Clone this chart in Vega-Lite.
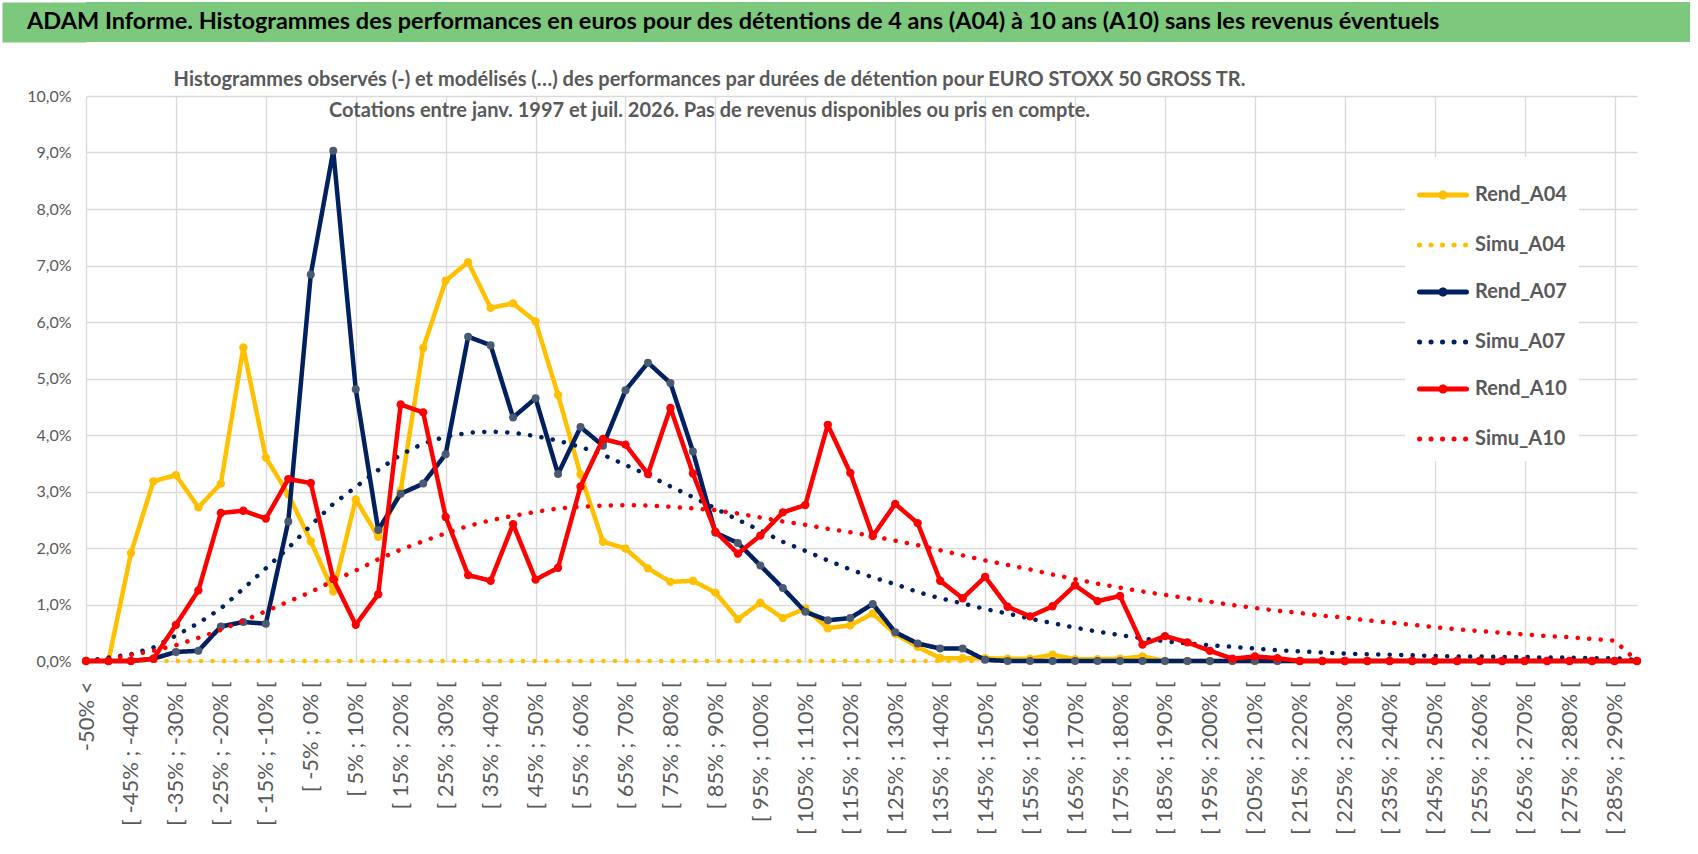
{
  "$schema": "https://vega.github.io/schema/vega-lite/v6.json",
  "background": "white",
  "padding": {"left": 2, "top": 2, "right": 6, "bottom": 4},
  "spacing": 28,
  "config": {
    "view": {"stroke": null},
    "font": "Lato",
    "line": {"strokeCap": "round"}
  },
  "datasets": {
    "h": [
      {"s":"Rend_A04","c":"-50% <","v":0},
      {"s":"Rend_A04","c":"[ -50% ; -45% [","v":0},
      {"s":"Rend_A04","c":"[ -45% ; -40% [","v":1.91},
      {"s":"Rend_A04","c":"[ -40% ; -35% [","v":3.18},
      {"s":"Rend_A04","c":"[ -35% ; -30% [","v":3.29},
      {"s":"Rend_A04","c":"[ -30% ; -25% [","v":2.72},
      {"s":"Rend_A04","c":"[ -25% ; -20% [","v":3.14},
      {"s":"Rend_A04","c":"[ -20% ; -15% [","v":5.55},
      {"s":"Rend_A04","c":"[ -15% ; -10% [","v":3.6},
      {"s":"Rend_A04","c":"[ -10% ; -5% [","v":2.95},
      {"s":"Rend_A04","c":"[ -5% ; 0% [","v":2.12},
      {"s":"Rend_A04","c":"[ 0% ; 5% [","v":1.23},
      {"s":"Rend_A04","c":"[ 5% ; 10% [","v":2.86},
      {"s":"Rend_A04","c":"[ 10% ; 15% [","v":2.2},
      {"s":"Rend_A04","c":"[ 15% ; 20% [","v":3.02},
      {"s":"Rend_A04","c":"[ 20% ; 25% [","v":5.54},
      {"s":"Rend_A04","c":"[ 25% ; 30% [","v":6.73},
      {"s":"Rend_A04","c":"[ 30% ; 35% [","v":7.06},
      {"s":"Rend_A04","c":"[ 35% ; 40% [","v":6.25},
      {"s":"Rend_A04","c":"[ 40% ; 45% [","v":6.33},
      {"s":"Rend_A04","c":"[ 45% ; 50% [","v":6.01},
      {"s":"Rend_A04","c":"[ 50% ; 55% [","v":4.71},
      {"s":"Rend_A04","c":"[ 55% ; 60% [","v":3.3},
      {"s":"Rend_A04","c":"[ 60% ; 65% [","v":2.11},
      {"s":"Rend_A04","c":"[ 65% ; 70% [","v":1.99},
      {"s":"Rend_A04","c":"[ 70% ; 75% [","v":1.64},
      {"s":"Rend_A04","c":"[ 75% ; 80% [","v":1.4},
      {"s":"Rend_A04","c":"[ 80% ; 85% [","v":1.42},
      {"s":"Rend_A04","c":"[ 85% ; 90% [","v":1.21},
      {"s":"Rend_A04","c":"[ 90% ; 95% [","v":0.74},
      {"s":"Rend_A04","c":"[ 95% ; 100% [","v":1.03},
      {"s":"Rend_A04","c":"[ 100% ; 105% [","v":0.76},
      {"s":"Rend_A04","c":"[ 105% ; 110% [","v":0.93},
      {"s":"Rend_A04","c":"[ 110% ; 115% [","v":0.58},
      {"s":"Rend_A04","c":"[ 115% ; 120% [","v":0.63},
      {"s":"Rend_A04","c":"[ 120% ; 125% [","v":0.84},
      {"s":"Rend_A04","c":"[ 125% ; 130% [","v":0.48},
      {"s":"Rend_A04","c":"[ 130% ; 135% [","v":0.25},
      {"s":"Rend_A04","c":"[ 135% ; 140% [","v":0.05},
      {"s":"Rend_A04","c":"[ 140% ; 145% [","v":0.05},
      {"s":"Rend_A04","c":"[ 145% ; 150% [","v":0.05},
      {"s":"Rend_A04","c":"[ 150% ; 155% [","v":0.04},
      {"s":"Rend_A04","c":"[ 155% ; 160% [","v":0.04},
      {"s":"Rend_A04","c":"[ 160% ; 165% [","v":0.11},
      {"s":"Rend_A04","c":"[ 165% ; 170% [","v":0.03},
      {"s":"Rend_A04","c":"[ 170% ; 175% [","v":0.03},
      {"s":"Rend_A04","c":"[ 175% ; 180% [","v":0.04},
      {"s":"Rend_A04","c":"[ 180% ; 185% [","v":0.08},
      {"s":"Rend_A04","c":"[ 185% ; 190% [","v":0},
      {"s":"Rend_A04","c":"[ 190% ; 195% [","v":0},
      {"s":"Rend_A04","c":"[ 195% ; 200% [","v":0},
      {"s":"Rend_A04","c":"[ 200% ; 205% [","v":0},
      {"s":"Rend_A04","c":"[ 205% ; 210% [","v":0},
      {"s":"Rend_A04","c":"[ 210% ; 215% [","v":0},
      {"s":"Rend_A04","c":"[ 215% ; 220% [","v":0},
      {"s":"Rend_A04","c":"[ 220% ; 225% [","v":0},
      {"s":"Rend_A04","c":"[ 225% ; 230% [","v":0},
      {"s":"Rend_A04","c":"[ 230% ; 235% [","v":0},
      {"s":"Rend_A04","c":"[ 235% ; 240% [","v":0},
      {"s":"Rend_A04","c":"[ 240% ; 245% [","v":0},
      {"s":"Rend_A04","c":"[ 245% ; 250% [","v":0},
      {"s":"Rend_A04","c":"[ 250% ; 255% [","v":0},
      {"s":"Rend_A04","c":"[ 255% ; 260% [","v":0},
      {"s":"Rend_A04","c":"[ 260% ; 265% [","v":0},
      {"s":"Rend_A04","c":"[ 265% ; 270% [","v":0},
      {"s":"Rend_A04","c":"[ 270% ; 275% [","v":0},
      {"s":"Rend_A04","c":"[ 275% ; 280% [","v":0},
      {"s":"Rend_A04","c":"[ 280% ; 285% [","v":0},
      {"s":"Rend_A04","c":"[ 285% ; 290% [","v":0},
      {"s":"Rend_A04","c":"> 290%","v":0},

      {"s":"Simu_A04","c":"-50% <","v":0},
      {"s":"Simu_A04","c":"[ -50% ; -45% [","v":0},
      {"s":"Simu_A04","c":"[ -45% ; -40% [","v":0},
      {"s":"Simu_A04","c":"[ -40% ; -35% [","v":0},
      {"s":"Simu_A04","c":"[ -35% ; -30% [","v":0},
      {"s":"Simu_A04","c":"[ -30% ; -25% [","v":0},
      {"s":"Simu_A04","c":"[ -25% ; -20% [","v":0},
      {"s":"Simu_A04","c":"[ -20% ; -15% [","v":0},
      {"s":"Simu_A04","c":"[ -15% ; -10% [","v":0},
      {"s":"Simu_A04","c":"[ -10% ; -5% [","v":0},
      {"s":"Simu_A04","c":"[ -5% ; 0% [","v":0},
      {"s":"Simu_A04","c":"[ 0% ; 5% [","v":0},
      {"s":"Simu_A04","c":"[ 5% ; 10% [","v":0},
      {"s":"Simu_A04","c":"[ 10% ; 15% [","v":0},
      {"s":"Simu_A04","c":"[ 15% ; 20% [","v":0},
      {"s":"Simu_A04","c":"[ 20% ; 25% [","v":0},
      {"s":"Simu_A04","c":"[ 25% ; 30% [","v":0},
      {"s":"Simu_A04","c":"[ 30% ; 35% [","v":0},
      {"s":"Simu_A04","c":"[ 35% ; 40% [","v":0},
      {"s":"Simu_A04","c":"[ 40% ; 45% [","v":0},
      {"s":"Simu_A04","c":"[ 45% ; 50% [","v":0},
      {"s":"Simu_A04","c":"[ 50% ; 55% [","v":0},
      {"s":"Simu_A04","c":"[ 55% ; 60% [","v":0},
      {"s":"Simu_A04","c":"[ 60% ; 65% [","v":0},
      {"s":"Simu_A04","c":"[ 65% ; 70% [","v":0},
      {"s":"Simu_A04","c":"[ 70% ; 75% [","v":0},
      {"s":"Simu_A04","c":"[ 75% ; 80% [","v":0},
      {"s":"Simu_A04","c":"[ 80% ; 85% [","v":0},
      {"s":"Simu_A04","c":"[ 85% ; 90% [","v":0},
      {"s":"Simu_A04","c":"[ 90% ; 95% [","v":0},
      {"s":"Simu_A04","c":"[ 95% ; 100% [","v":0},
      {"s":"Simu_A04","c":"[ 100% ; 105% [","v":0},
      {"s":"Simu_A04","c":"[ 105% ; 110% [","v":0},
      {"s":"Simu_A04","c":"[ 110% ; 115% [","v":0},
      {"s":"Simu_A04","c":"[ 115% ; 120% [","v":0},
      {"s":"Simu_A04","c":"[ 120% ; 125% [","v":0},
      {"s":"Simu_A04","c":"[ 125% ; 130% [","v":0},
      {"s":"Simu_A04","c":"[ 130% ; 135% [","v":0},
      {"s":"Simu_A04","c":"[ 135% ; 140% [","v":0},
      {"s":"Simu_A04","c":"[ 140% ; 145% [","v":0},
      {"s":"Simu_A04","c":"[ 145% ; 150% [","v":0},
      {"s":"Simu_A04","c":"[ 150% ; 155% [","v":0},
      {"s":"Simu_A04","c":"[ 155% ; 160% [","v":0},
      {"s":"Simu_A04","c":"[ 160% ; 165% [","v":0},
      {"s":"Simu_A04","c":"[ 165% ; 170% [","v":0},
      {"s":"Simu_A04","c":"[ 170% ; 175% [","v":0},
      {"s":"Simu_A04","c":"[ 175% ; 180% [","v":0},
      {"s":"Simu_A04","c":"[ 180% ; 185% [","v":0},
      {"s":"Simu_A04","c":"[ 185% ; 190% [","v":0},
      {"s":"Simu_A04","c":"[ 190% ; 195% [","v":0},
      {"s":"Simu_A04","c":"[ 195% ; 200% [","v":0},
      {"s":"Simu_A04","c":"[ 200% ; 205% [","v":0},
      {"s":"Simu_A04","c":"[ 205% ; 210% [","v":0},
      {"s":"Simu_A04","c":"[ 210% ; 215% [","v":0},
      {"s":"Simu_A04","c":"[ 215% ; 220% [","v":0},
      {"s":"Simu_A04","c":"[ 220% ; 225% [","v":0},
      {"s":"Simu_A04","c":"[ 225% ; 230% [","v":0},
      {"s":"Simu_A04","c":"[ 230% ; 235% [","v":0},
      {"s":"Simu_A04","c":"[ 235% ; 240% [","v":0},
      {"s":"Simu_A04","c":"[ 240% ; 245% [","v":0},
      {"s":"Simu_A04","c":"[ 245% ; 250% [","v":0},
      {"s":"Simu_A04","c":"[ 250% ; 255% [","v":0},
      {"s":"Simu_A04","c":"[ 255% ; 260% [","v":0},
      {"s":"Simu_A04","c":"[ 260% ; 265% [","v":0},
      {"s":"Simu_A04","c":"[ 265% ; 270% [","v":0},
      {"s":"Simu_A04","c":"[ 270% ; 275% [","v":0},
      {"s":"Simu_A04","c":"[ 275% ; 280% [","v":0},
      {"s":"Simu_A04","c":"[ 280% ; 285% [","v":0},
      {"s":"Simu_A04","c":"[ 285% ; 290% [","v":0},
      {"s":"Simu_A04","c":"> 290%","v":0},

      {"s":"Rend_A07","c":"-50% <","v":0},
      {"s":"Rend_A07","c":"[ -50% ; -45% [","v":0},
      {"s":"Rend_A07","c":"[ -45% ; -40% [","v":0},
      {"s":"Rend_A07","c":"[ -40% ; -35% [","v":0.04},
      {"s":"Rend_A07","c":"[ -35% ; -30% [","v":0.16},
      {"s":"Rend_A07","c":"[ -30% ; -25% [","v":0.18},
      {"s":"Rend_A07","c":"[ -25% ; -20% [","v":0.61},
      {"s":"Rend_A07","c":"[ -20% ; -15% [","v":0.69},
      {"s":"Rend_A07","c":"[ -15% ; -10% [","v":0.66},
      {"s":"Rend_A07","c":"[ -10% ; -5% [","v":2.47},
      {"s":"Rend_A07","c":"[ -5% ; 0% [","v":6.84},
      {"s":"Rend_A07","c":"[ 0% ; 5% [","v":9.03},
      {"s":"Rend_A07","c":"[ 5% ; 10% [","v":4.81},
      {"s":"Rend_A07","c":"[ 10% ; 15% [","v":2.32},
      {"s":"Rend_A07","c":"[ 15% ; 20% [","v":2.96},
      {"s":"Rend_A07","c":"[ 20% ; 25% [","v":3.14},
      {"s":"Rend_A07","c":"[ 25% ; 30% [","v":3.66},
      {"s":"Rend_A07","c":"[ 30% ; 35% [","v":5.74},
      {"s":"Rend_A07","c":"[ 35% ; 40% [","v":5.59},
      {"s":"Rend_A07","c":"[ 40% ; 45% [","v":4.31},
      {"s":"Rend_A07","c":"[ 45% ; 50% [","v":4.65},
      {"s":"Rend_A07","c":"[ 50% ; 55% [","v":3.31},
      {"s":"Rend_A07","c":"[ 55% ; 60% [","v":4.14},
      {"s":"Rend_A07","c":"[ 60% ; 65% [","v":3.81},
      {"s":"Rend_A07","c":"[ 65% ; 70% [","v":4.79},
      {"s":"Rend_A07","c":"[ 70% ; 75% [","v":5.28},
      {"s":"Rend_A07","c":"[ 75% ; 80% [","v":4.92},
      {"s":"Rend_A07","c":"[ 80% ; 85% [","v":3.71},
      {"s":"Rend_A07","c":"[ 85% ; 90% [","v":2.27},
      {"s":"Rend_A07","c":"[ 90% ; 95% [","v":2.09},
      {"s":"Rend_A07","c":"[ 95% ; 100% [","v":1.69},
      {"s":"Rend_A07","c":"[ 100% ; 105% [","v":1.29},
      {"s":"Rend_A07","c":"[ 105% ; 110% [","v":0.87},
      {"s":"Rend_A07","c":"[ 110% ; 115% [","v":0.72},
      {"s":"Rend_A07","c":"[ 115% ; 120% [","v":0.76},
      {"s":"Rend_A07","c":"[ 120% ; 125% [","v":1.01},
      {"s":"Rend_A07","c":"[ 125% ; 130% [","v":0.51},
      {"s":"Rend_A07","c":"[ 130% ; 135% [","v":0.31},
      {"s":"Rend_A07","c":"[ 135% ; 140% [","v":0.22},
      {"s":"Rend_A07","c":"[ 140% ; 145% [","v":0.22},
      {"s":"Rend_A07","c":"[ 145% ; 150% [","v":0.02},
      {"s":"Rend_A07","c":"[ 150% ; 155% [","v":0},
      {"s":"Rend_A07","c":"[ 155% ; 160% [","v":0},
      {"s":"Rend_A07","c":"[ 160% ; 165% [","v":0},
      {"s":"Rend_A07","c":"[ 165% ; 170% [","v":0},
      {"s":"Rend_A07","c":"[ 170% ; 175% [","v":0},
      {"s":"Rend_A07","c":"[ 175% ; 180% [","v":0},
      {"s":"Rend_A07","c":"[ 180% ; 185% [","v":0},
      {"s":"Rend_A07","c":"[ 185% ; 190% [","v":0},
      {"s":"Rend_A07","c":"[ 190% ; 195% [","v":0},
      {"s":"Rend_A07","c":"[ 195% ; 200% [","v":0},
      {"s":"Rend_A07","c":"[ 200% ; 205% [","v":0},
      {"s":"Rend_A07","c":"[ 205% ; 210% [","v":0},
      {"s":"Rend_A07","c":"[ 210% ; 215% [","v":0},
      {"s":"Rend_A07","c":"[ 215% ; 220% [","v":0},
      {"s":"Rend_A07","c":"[ 220% ; 225% [","v":0},
      {"s":"Rend_A07","c":"[ 225% ; 230% [","v":0},
      {"s":"Rend_A07","c":"[ 230% ; 235% [","v":0},
      {"s":"Rend_A07","c":"[ 235% ; 240% [","v":0},
      {"s":"Rend_A07","c":"[ 240% ; 245% [","v":0},
      {"s":"Rend_A07","c":"[ 245% ; 250% [","v":0},
      {"s":"Rend_A07","c":"[ 250% ; 255% [","v":0},
      {"s":"Rend_A07","c":"[ 255% ; 260% [","v":0},
      {"s":"Rend_A07","c":"[ 260% ; 265% [","v":0},
      {"s":"Rend_A07","c":"[ 265% ; 270% [","v":0},
      {"s":"Rend_A07","c":"[ 270% ; 275% [","v":0},
      {"s":"Rend_A07","c":"[ 275% ; 280% [","v":0},
      {"s":"Rend_A07","c":"[ 280% ; 285% [","v":0},
      {"s":"Rend_A07","c":"[ 285% ; 290% [","v":0},
      {"s":"Rend_A07","c":"> 290%","v":0},

      {"s":"Simu_A07","c":"-50% <","v":0},
      {"s":"Simu_A07","c":"[ -50% ; -45% [","v":0.06},
      {"s":"Simu_A07","c":"[ -45% ; -40% [","v":0.12},
      {"s":"Simu_A07","c":"[ -40% ; -35% [","v":0.24},
      {"s":"Simu_A07","c":"[ -35% ; -30% [","v":0.45},
      {"s":"Simu_A07","c":"[ -30% ; -25% [","v":0.67},
      {"s":"Simu_A07","c":"[ -25% ; -20% [","v":0.93},
      {"s":"Simu_A07","c":"[ -20% ; -15% [","v":1.28},
      {"s":"Simu_A07","c":"[ -15% ; -10% [","v":1.64},
      {"s":"Simu_A07","c":"[ -10% ; -5% [","v":2.0},
      {"s":"Simu_A07","c":"[ -5% ; 0% [","v":2.4},
      {"s":"Simu_A07","c":"[ 0% ; 5% [","v":2.78},
      {"s":"Simu_A07","c":"[ 5% ; 10% [","v":3.08},
      {"s":"Simu_A07","c":"[ 10% ; 15% [","v":3.38},
      {"s":"Simu_A07","c":"[ 15% ; 20% [","v":3.65},
      {"s":"Simu_A07","c":"[ 20% ; 25% [","v":3.85},
      {"s":"Simu_A07","c":"[ 25% ; 30% [","v":3.97},
      {"s":"Simu_A07","c":"[ 30% ; 35% [","v":4.04},
      {"s":"Simu_A07","c":"[ 35% ; 40% [","v":4.06},
      {"s":"Simu_A07","c":"[ 40% ; 45% [","v":4.04},
      {"s":"Simu_A07","c":"[ 45% ; 50% [","v":3.98},
      {"s":"Simu_A07","c":"[ 50% ; 55% [","v":3.9},
      {"s":"Simu_A07","c":"[ 55% ; 60% [","v":3.79},
      {"s":"Simu_A07","c":"[ 60% ; 65% [","v":3.65},
      {"s":"Simu_A07","c":"[ 65% ; 70% [","v":3.47},
      {"s":"Simu_A07","c":"[ 70% ; 75% [","v":3.29},
      {"s":"Simu_A07","c":"[ 75% ; 80% [","v":3.09},
      {"s":"Simu_A07","c":"[ 80% ; 85% [","v":2.9},
      {"s":"Simu_A07","c":"[ 85% ; 90% [","v":2.7},
      {"s":"Simu_A07","c":"[ 90% ; 95% [","v":2.5},
      {"s":"Simu_A07","c":"[ 95% ; 100% [","v":2.31},
      {"s":"Simu_A07","c":"[ 100% ; 105% [","v":2.11},
      {"s":"Simu_A07","c":"[ 105% ; 110% [","v":1.95},
      {"s":"Simu_A07","c":"[ 110% ; 115% [","v":1.78},
      {"s":"Simu_A07","c":"[ 115% ; 120% [","v":1.62},
      {"s":"Simu_A07","c":"[ 120% ; 125% [","v":1.48},
      {"s":"Simu_A07","c":"[ 125% ; 130% [","v":1.36},
      {"s":"Simu_A07","c":"[ 130% ; 135% [","v":1.22},
      {"s":"Simu_A07","c":"[ 135% ; 140% [","v":1.11},
      {"s":"Simu_A07","c":"[ 140% ; 145% [","v":1.02},
      {"s":"Simu_A07","c":"[ 145% ; 150% [","v":0.92},
      {"s":"Simu_A07","c":"[ 150% ; 155% [","v":0.84},
      {"s":"Simu_A07","c":"[ 155% ; 160% [","v":0.75},
      {"s":"Simu_A07","c":"[ 160% ; 165% [","v":0.67},
      {"s":"Simu_A07","c":"[ 165% ; 170% [","v":0.59},
      {"s":"Simu_A07","c":"[ 170% ; 175% [","v":0.52},
      {"s":"Simu_A07","c":"[ 175% ; 180% [","v":0.46},
      {"s":"Simu_A07","c":"[ 180% ; 185% [","v":0.4},
      {"s":"Simu_A07","c":"[ 185% ; 190% [","v":0.35},
      {"s":"Simu_A07","c":"[ 190% ; 195% [","v":0.31},
      {"s":"Simu_A07","c":"[ 195% ; 200% [","v":0.28},
      {"s":"Simu_A07","c":"[ 200% ; 205% [","v":0.25},
      {"s":"Simu_A07","c":"[ 205% ; 210% [","v":0.22},
      {"s":"Simu_A07","c":"[ 210% ; 215% [","v":0.19},
      {"s":"Simu_A07","c":"[ 215% ; 220% [","v":0.17},
      {"s":"Simu_A07","c":"[ 220% ; 225% [","v":0.15},
      {"s":"Simu_A07","c":"[ 225% ; 230% [","v":0.13},
      {"s":"Simu_A07","c":"[ 230% ; 235% [","v":0.12},
      {"s":"Simu_A07","c":"[ 235% ; 240% [","v":0.11},
      {"s":"Simu_A07","c":"[ 240% ; 245% [","v":0.1},
      {"s":"Simu_A07","c":"[ 245% ; 250% [","v":0.09},
      {"s":"Simu_A07","c":"[ 250% ; 255% [","v":0.08},
      {"s":"Simu_A07","c":"[ 255% ; 260% [","v":0.08},
      {"s":"Simu_A07","c":"[ 260% ; 265% [","v":0.07},
      {"s":"Simu_A07","c":"[ 265% ; 270% [","v":0.07},
      {"s":"Simu_A07","c":"[ 270% ; 275% [","v":0.06},
      {"s":"Simu_A07","c":"[ 275% ; 280% [","v":0.06},
      {"s":"Simu_A07","c":"[ 280% ; 285% [","v":0.05},
      {"s":"Simu_A07","c":"[ 285% ; 290% [","v":0.05},
      {"s":"Simu_A07","c":"> 290%","v":0.02},

      {"s":"Rend_A10","c":"-50% <","v":0},
      {"s":"Rend_A10","c":"[ -50% ; -45% [","v":0},
      {"s":"Rend_A10","c":"[ -45% ; -40% [","v":0},
      {"s":"Rend_A10","c":"[ -40% ; -35% [","v":0.04},
      {"s":"Rend_A10","c":"[ -35% ; -30% [","v":0.64},
      {"s":"Rend_A10","c":"[ -30% ; -25% [","v":1.25},
      {"s":"Rend_A10","c":"[ -25% ; -20% [","v":2.62},
      {"s":"Rend_A10","c":"[ -20% ; -15% [","v":2.66},
      {"s":"Rend_A10","c":"[ -15% ; -10% [","v":2.52},
      {"s":"Rend_A10","c":"[ -10% ; -5% [","v":3.22},
      {"s":"Rend_A10","c":"[ -5% ; 0% [","v":3.15},
      {"s":"Rend_A10","c":"[ 0% ; 5% [","v":1.45},
      {"s":"Rend_A10","c":"[ 5% ; 10% [","v":0.64},
      {"s":"Rend_A10","c":"[ 10% ; 15% [","v":1.18},
      {"s":"Rend_A10","c":"[ 15% ; 20% [","v":4.54},
      {"s":"Rend_A10","c":"[ 20% ; 25% [","v":4.4},
      {"s":"Rend_A10","c":"[ 25% ; 30% [","v":2.55},
      {"s":"Rend_A10","c":"[ 30% ; 35% [","v":1.52},
      {"s":"Rend_A10","c":"[ 35% ; 40% [","v":1.42},
      {"s":"Rend_A10","c":"[ 40% ; 45% [","v":2.42},
      {"s":"Rend_A10","c":"[ 45% ; 50% [","v":1.44},
      {"s":"Rend_A10","c":"[ 50% ; 55% [","v":1.65},
      {"s":"Rend_A10","c":"[ 55% ; 60% [","v":3.09},
      {"s":"Rend_A10","c":"[ 60% ; 65% [","v":3.93},
      {"s":"Rend_A10","c":"[ 65% ; 70% [","v":3.83},
      {"s":"Rend_A10","c":"[ 70% ; 75% [","v":3.31},
      {"s":"Rend_A10","c":"[ 75% ; 80% [","v":4.48},
      {"s":"Rend_A10","c":"[ 80% ; 85% [","v":3.32},
      {"s":"Rend_A10","c":"[ 85% ; 90% [","v":2.29},
      {"s":"Rend_A10","c":"[ 90% ; 95% [","v":1.9},
      {"s":"Rend_A10","c":"[ 95% ; 100% [","v":2.22},
      {"s":"Rend_A10","c":"[ 100% ; 105% [","v":2.63},
      {"s":"Rend_A10","c":"[ 105% ; 110% [","v":2.76},
      {"s":"Rend_A10","c":"[ 110% ; 115% [","v":4.18},
      {"s":"Rend_A10","c":"[ 115% ; 120% [","v":3.33},
      {"s":"Rend_A10","c":"[ 120% ; 125% [","v":2.21},
      {"s":"Rend_A10","c":"[ 125% ; 130% [","v":2.78},
      {"s":"Rend_A10","c":"[ 130% ; 135% [","v":2.44},
      {"s":"Rend_A10","c":"[ 135% ; 140% [","v":1.42},
      {"s":"Rend_A10","c":"[ 140% ; 145% [","v":1.11},
      {"s":"Rend_A10","c":"[ 145% ; 150% [","v":1.49},
      {"s":"Rend_A10","c":"[ 150% ; 155% [","v":0.96},
      {"s":"Rend_A10","c":"[ 155% ; 160% [","v":0.79},
      {"s":"Rend_A10","c":"[ 160% ; 165% [","v":0.97},
      {"s":"Rend_A10","c":"[ 165% ; 170% [","v":1.34},
      {"s":"Rend_A10","c":"[ 170% ; 175% [","v":1.06},
      {"s":"Rend_A10","c":"[ 175% ; 180% [","v":1.15},
      {"s":"Rend_A10","c":"[ 180% ; 185% [","v":0.29},
      {"s":"Rend_A10","c":"[ 185% ; 190% [","v":0.44},
      {"s":"Rend_A10","c":"[ 190% ; 195% [","v":0.33},
      {"s":"Rend_A10","c":"[ 195% ; 200% [","v":0.18},
      {"s":"Rend_A10","c":"[ 200% ; 205% [","v":0.04},
      {"s":"Rend_A10","c":"[ 205% ; 210% [","v":0.08},
      {"s":"Rend_A10","c":"[ 210% ; 215% [","v":0.05},
      {"s":"Rend_A10","c":"[ 215% ; 220% [","v":0},
      {"s":"Rend_A10","c":"[ 220% ; 225% [","v":0},
      {"s":"Rend_A10","c":"[ 225% ; 230% [","v":0},
      {"s":"Rend_A10","c":"[ 230% ; 235% [","v":0},
      {"s":"Rend_A10","c":"[ 235% ; 240% [","v":0},
      {"s":"Rend_A10","c":"[ 240% ; 245% [","v":0},
      {"s":"Rend_A10","c":"[ 245% ; 250% [","v":0},
      {"s":"Rend_A10","c":"[ 250% ; 255% [","v":0},
      {"s":"Rend_A10","c":"[ 255% ; 260% [","v":0},
      {"s":"Rend_A10","c":"[ 260% ; 265% [","v":0},
      {"s":"Rend_A10","c":"[ 265% ; 270% [","v":0},
      {"s":"Rend_A10","c":"[ 270% ; 275% [","v":0},
      {"s":"Rend_A10","c":"[ 275% ; 280% [","v":0},
      {"s":"Rend_A10","c":"[ 280% ; 285% [","v":0},
      {"s":"Rend_A10","c":"[ 285% ; 290% [","v":0},
      {"s":"Rend_A10","c":"> 290%","v":0},

      {"s":"Simu_A10","c":"-50% <","v":0},
      {"s":"Simu_A10","c":"[ -50% ; -45% [","v":0.03},
      {"s":"Simu_A10","c":"[ -45% ; -40% [","v":0.11},
      {"s":"Simu_A10","c":"[ -40% ; -35% [","v":0.18},
      {"s":"Simu_A10","c":"[ -35% ; -30% [","v":0.28},
      {"s":"Simu_A10","c":"[ -30% ; -25% [","v":0.41},
      {"s":"Simu_A10","c":"[ -25% ; -20% [","v":0.55},
      {"s":"Simu_A10","c":"[ -20% ; -15% [","v":0.71},
      {"s":"Simu_A10","c":"[ -15% ; -10% [","v":0.88},
      {"s":"Simu_A10","c":"[ -10% ; -5% [","v":1.05},
      {"s":"Simu_A10","c":"[ -5% ; 0% [","v":1.22},
      {"s":"Simu_A10","c":"[ 0% ; 5% [","v":1.42},
      {"s":"Simu_A10","c":"[ 5% ; 10% [","v":1.6},
      {"s":"Simu_A10","c":"[ 10% ; 15% [","v":1.8},
      {"s":"Simu_A10","c":"[ 15% ; 20% [","v":1.97},
      {"s":"Simu_A10","c":"[ 20% ; 25% [","v":2.12},
      {"s":"Simu_A10","c":"[ 25% ; 30% [","v":2.26},
      {"s":"Simu_A10","c":"[ 30% ; 35% [","v":2.39},
      {"s":"Simu_A10","c":"[ 35% ; 40% [","v":2.49},
      {"s":"Simu_A10","c":"[ 40% ; 45% [","v":2.57},
      {"s":"Simu_A10","c":"[ 45% ; 50% [","v":2.64},
      {"s":"Simu_A10","c":"[ 50% ; 55% [","v":2.7},
      {"s":"Simu_A10","c":"[ 55% ; 60% [","v":2.73},
      {"s":"Simu_A10","c":"[ 60% ; 65% [","v":2.75},
      {"s":"Simu_A10","c":"[ 65% ; 70% [","v":2.76},
      {"s":"Simu_A10","c":"[ 70% ; 75% [","v":2.75},
      {"s":"Simu_A10","c":"[ 75% ; 80% [","v":2.73},
      {"s":"Simu_A10","c":"[ 80% ; 85% [","v":2.7},
      {"s":"Simu_A10","c":"[ 85% ; 90% [","v":2.67},
      {"s":"Simu_A10","c":"[ 90% ; 95% [","v":2.61},
      {"s":"Simu_A10","c":"[ 95% ; 100% [","v":2.54},
      {"s":"Simu_A10","c":"[ 100% ; 105% [","v":2.47},
      {"s":"Simu_A10","c":"[ 105% ; 110% [","v":2.41},
      {"s":"Simu_A10","c":"[ 110% ; 115% [","v":2.34},
      {"s":"Simu_A10","c":"[ 115% ; 120% [","v":2.28},
      {"s":"Simu_A10","c":"[ 120% ; 125% [","v":2.21},
      {"s":"Simu_A10","c":"[ 125% ; 130% [","v":2.13},
      {"s":"Simu_A10","c":"[ 130% ; 135% [","v":2.05},
      {"s":"Simu_A10","c":"[ 135% ; 140% [","v":1.96},
      {"s":"Simu_A10","c":"[ 140% ; 145% [","v":1.87},
      {"s":"Simu_A10","c":"[ 145% ; 150% [","v":1.78},
      {"s":"Simu_A10","c":"[ 150% ; 155% [","v":1.7},
      {"s":"Simu_A10","c":"[ 155% ; 160% [","v":1.62},
      {"s":"Simu_A10","c":"[ 160% ; 165% [","v":1.53},
      {"s":"Simu_A10","c":"[ 165% ; 170% [","v":1.45},
      {"s":"Simu_A10","c":"[ 170% ; 175% [","v":1.37},
      {"s":"Simu_A10","c":"[ 175% ; 180% [","v":1.3},
      {"s":"Simu_A10","c":"[ 180% ; 185% [","v":1.23},
      {"s":"Simu_A10","c":"[ 185% ; 190% [","v":1.17},
      {"s":"Simu_A10","c":"[ 190% ; 195% [","v":1.11},
      {"s":"Simu_A10","c":"[ 195% ; 200% [","v":1.05},
      {"s":"Simu_A10","c":"[ 200% ; 205% [","v":0.99},
      {"s":"Simu_A10","c":"[ 205% ; 210% [","v":0.94},
      {"s":"Simu_A10","c":"[ 210% ; 215% [","v":0.89},
      {"s":"Simu_A10","c":"[ 215% ; 220% [","v":0.85},
      {"s":"Simu_A10","c":"[ 220% ; 225% [","v":0.8},
      {"s":"Simu_A10","c":"[ 225% ; 230% [","v":0.77},
      {"s":"Simu_A10","c":"[ 230% ; 235% [","v":0.72},
      {"s":"Simu_A10","c":"[ 235% ; 240% [","v":0.68},
      {"s":"Simu_A10","c":"[ 240% ; 245% [","v":0.64},
      {"s":"Simu_A10","c":"[ 245% ; 250% [","v":0.6},
      {"s":"Simu_A10","c":"[ 250% ; 255% [","v":0.56},
      {"s":"Simu_A10","c":"[ 255% ; 260% [","v":0.53},
      {"s":"Simu_A10","c":"[ 260% ; 265% [","v":0.5},
      {"s":"Simu_A10","c":"[ 265% ; 270% [","v":0.47},
      {"s":"Simu_A10","c":"[ 270% ; 275% [","v":0.44},
      {"s":"Simu_A10","c":"[ 275% ; 280% [","v":0.42},
      {"s":"Simu_A10","c":"[ 280% ; 285% [","v":0.39},
      {"s":"Simu_A10","c":"[ 285% ; 290% [","v":0.36},
      {"s":"Simu_A10","c":"> 290%","v":0}
    ]
  },
  "vconcat": [
    {
      "width": 1604,
      "height": 40,
      "view": {"fill": "#7CC87C", "stroke": null},
      "data": {"values": [{"t": "ADAM Informe. Histogrammes des performances en euros pour des détentions de 4 ans (A04) à 10 ans (A10) sans les revenus éventuels"}]},
      "mark": {"type": "text", "align": "left", "baseline": "middle", "dx": -59, "font": "Lato", "fontSize": 23.5, "fontWeight": "bold", "color": "#000000"},
      "encoding": {
        "text": {"field": "t"},
        "x": {"field": "t", "type": "nominal", "axis": null, "scale": {"type": "point", "padding": 0, "align": 0}},
        "y": {
          "field": "t",
          "type": "nominal",
          "scale": {"type": "point", "padding": 0, "align": 0.5},
          "axis": {
            "title": null,
            "labels": false,
            "ticks": false,
            "grid": false,
            "domain": true,
            "domainColor": "#7CC87C",
            "domainWidth": 84,
            "offset": 42,
            "minExtent": 0,
            "maxExtent": 0,
            "zindex": 0
          }
        }
      }
    },
    {
      "width": 1551,
      "height": 565,
      "data": {"name": "h"},
      "title": {
        "text": [
          "Histogrammes observés (-) et modélisés (…) des performances par durées de détention pour EURO STOXX 50 GROSS TR.",
          "Cotations entre janv. 1997 et juil. 2026. Pas de revenus disponibles ou pris en compte."
        ],
        "anchor": "middle",
        "frame": "group",
        "dx": -152,
        "offset": -33,
        "font": "Lato",
        "fontSize": 20,
        "fontWeight": "bold",
        "color": "#595959",
        "lineHeight": 31
      },
      "encoding": {
        "x": {
          "field": "c",
          "type": "nominal",
          "sort": null,
          "scale": {"type": "point", "padding": 0},
          "axis": {
            "title": null,
            "labelAngle": 270,
            "labelPadding": 20,
            "labelOverlap": false,
            "labelLimit": 300,
            "ticks": false,
            "domain": false,
            "labelExpr": "datum.value == '-50% <' || indexof(datum.value, '5% ;') >= 0 ? datum.value : ''",
            "labelFont": "Lato",
            "labelFontSize": 22,
            "labelColor": "#595959",
            "grid": true,
            "gridColor": "#D9D9D9",
            "gridWidth": 1.3,
            "gridOpacity": {"condition": {"test": "round(datum.index * 69) % 4 == 0", "value": 1}, "value": 0}
          }
        },
        "y": {
          "field": "v",
          "type": "quantitative",
          "scale": {"domain": [0, 10], "nice": false},
          "axis": {
            "title": null,
            "values": [0, 1, 2, 3, 4, 5, 6, 7, 8, 9, 10],
            "labelExpr": "replace(format(datum.value, '.1f'), '.', ',') + '%'",
            "domain": false,
            "ticks": false,
            "labelPadding": 15,
            "minExtent": 84,
            "maxExtent": 84,
            "labelFont": "Lato",
            "labelFontSize": 16,
            "labelColor": "#595959",
            "gridColor": "#D9D9D9",
            "gridWidth": 1.3
          }
        },
        "color": {
          "field": "s",
          "type": "nominal",
          "scale": {
            "domain": ["Rend_A04", "Simu_A04", "Rend_A07", "Simu_A07", "Rend_A10", "Simu_A10"],
            "range": ["#FFC000", "#FFC000", "#002060", "#002060", "#FF0000", "#FF0000"]
          },
          "legend": {
            "title": null,
            "orient": "none",
            "legendX": 1319,
            "legendY": 155,
            "symbolType": "stroke",
            "symbolSize": 2209,
            "symbolStrokeWidth": 5,
            "labelFont": "Lato",
            "labelFontSize": 20,
            "labelFontWeight": "bold",
            "labelColor": "#595959",
            "labelOffset": 6,
            "labelLimit": 300,
            "rowPadding": 11,
            "padding": 12,
            "fillColor": "white",
            "encoding": {
              "symbols": {
                "strokeCap": {"value": "round"},
                "shape": {
                  "condition": {"test": "indexof(datum.value, 'Rend') == 0", "value": "M-1,0L1,0M-0.09,0A0.09,0.09 0 1,0 0.09,0A0.09,0.09 0 1,0 -0.09,0"},
                  "value": "stroke"
                }
              }
            }
          }
        },
        "strokeDash": {
          "field": "s",
          "type": "nominal",
          "scale": {
            "domain": ["Rend_A04", "Simu_A04", "Rend_A07", "Simu_A07", "Rend_A10", "Simu_A10"],
            "range": [[1, 0], [0.1, 11.4], [1, 0], [0.1, 11.4], [1, 0], [0.1, 11.4]]
          },
          "legend": {
            "title": null,
            "orient": "none",
            "legendX": 1319,
            "legendY": 155,
            "symbolType": "stroke",
            "symbolSize": 2209,
            "symbolStrokeWidth": 5,
            "labelFont": "Lato",
            "labelFontSize": 20,
            "labelFontWeight": "bold",
            "labelColor": "#595959",
            "labelOffset": 6,
            "labelLimit": 300,
            "rowPadding": 11,
            "padding": 12,
            "fillColor": "white",
            "encoding": {
              "symbols": {
                "strokeCap": {"value": "round"},
                "shape": {
                  "condition": {"test": "indexof(datum.value, 'Rend') == 0", "value": "M-1,0L1,0M-0.09,0A0.09,0.09 0 1,0 0.09,0A0.09,0.09 0 1,0 -0.09,0"},
                  "value": "stroke"
                }
              }
            }
          }
        }
      },
      "layer": [
        {
          "transform": [{"filter": "datum.s == 'Rend_A04'"}],
          "mark": {"type": "line", "strokeWidth": 4.5, "strokeJoin": "round", "point": {"filled": true, "size": 70}}
        },
        {
          "transform": [{"filter": "datum.s == 'Simu_A04'"}],
          "mark": {"type": "line", "strokeWidth": 4.5, "strokeCap": "round"}
        },
        {
          "transform": [{"filter": "datum.s == 'Rend_A07'"}],
          "mark": {"type": "line", "strokeWidth": 4.5, "strokeJoin": "round"}
        },
        {
          "transform": [{"filter": "datum.s == 'Rend_A07'"}],
          "mark": {"type": "point", "filled": true, "size": 64, "opacity": 1},
          "encoding": {"color": {"value": "#4A5A72"}, "strokeDash": {"value": [1, 0]}}
        },
        {
          "transform": [{"filter": "datum.s == 'Simu_A07'"}],
          "mark": {"type": "line", "strokeWidth": 4.5, "strokeCap": "round"}
        },
        {
          "transform": [{"filter": "datum.s == 'Rend_A10'"}],
          "mark": {"type": "line", "strokeWidth": 4.5, "strokeJoin": "round", "point": {"filled": true, "size": 70}}
        },
        {
          "transform": [{"filter": "datum.s == 'Simu_A10'"}],
          "mark": {"type": "line", "strokeWidth": 4.5, "strokeCap": "round"}
        }
      ]
    }
  ]
}
